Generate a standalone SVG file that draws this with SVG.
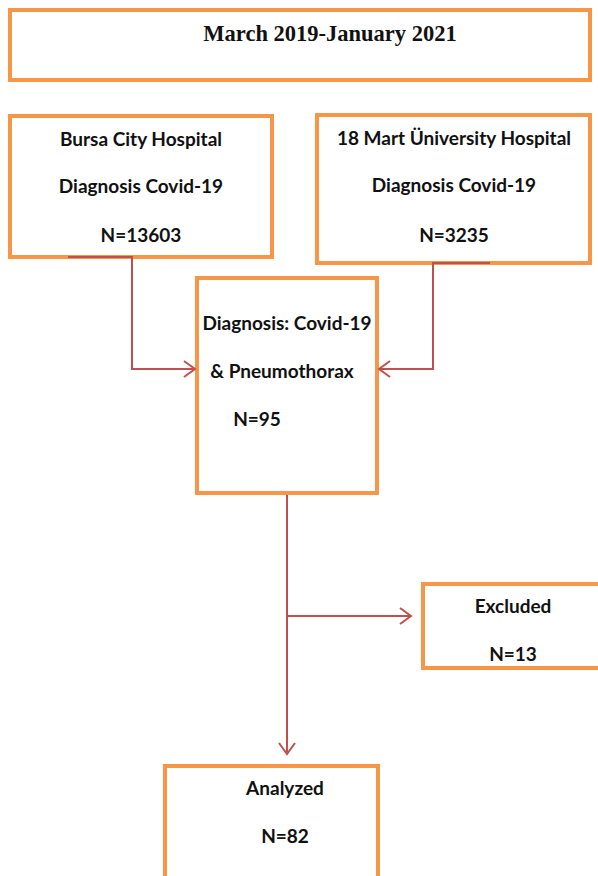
<svg xmlns="http://www.w3.org/2000/svg" width="598" height="876" viewBox="0 0 598 876">
<style>
.box{fill:#fff;stroke:#F79646;stroke-width:4}
.t{font-family:Lato,"Liberation Sans",sans-serif;font-weight:bold;font-size:19px;fill:#111;text-anchor:middle}
.title{font-family:"Liberation Serif",serif;font-weight:bold;font-size:22.5px;fill:#111;text-anchor:middle}
.c{fill:none;stroke:#C0504D;stroke-width:2}
</style>
<defs>
<marker id="arr" markerWidth="14" markerHeight="18" refX="12" refY="9" orient="auto" markerUnits="userSpaceOnUse">
<polyline points="1,1 12,9 1,17" fill="none" stroke="#C0504D" stroke-width="2"/>
</marker>
</defs>
<g id="title"><rect class="box" x="10" y="10" width="580" height="70"/><text class="title" x="330" y="41">March 2019-January 2021</text></g>
<g id="bursa"><rect class="box" x="10" y="116" width="262" height="141"/>
<text class="t" x="141" y="146">Bursa City Hospital</text>
<text class="t" x="141" y="193">Diagnosis Covid-19</text>
<text class="t" x="141" y="242">N=13603</text></g>
<g id="mart"><rect class="box" x="317" y="115" width="273" height="148"/>
<text class="t" x="454" y="145">18 Mart Üniversity Hospital</text>
<text class="t" x="454" y="192">Diagnosis Covid-19</text>
<text class="t" x="454" y="242">N=3235</text></g>
<g id="center"><rect class="box" x="197" y="278" width="180" height="215"/>
<text class="t" x="287" y="330">Diagnosis: Covid-19</text>
<text class="t" x="282" y="378">&amp; Pneumothorax</text>
<text class="t" x="257" y="426">N=95</text></g>
<g id="excluded"><rect class="box" x="423" y="584" width="180" height="84"/>
<text class="t" x="513" y="613">Excluded</text>
<text class="t" x="513" y="661">N=13</text></g>
<g id="analyzed"><rect class="box" x="165" y="766" width="213" height="120"/>
<text class="t" x="285" y="795">Analyzed</text>
<text class="t" x="285" y="843">N=82</text></g>
<g id="connectors">
<polyline class="c" points="68,257 132,257 132,369 195,369" marker-end="url(#arr)"/>
<polyline class="c" points="490,263 433,263 433,369 379,369" marker-end="url(#arr)"/>
<polyline class="c" points="287,495 287,754" marker-end="url(#arr)"/>
<polyline class="c" points="287,616 411,616" marker-end="url(#arr)"/>
</g>
</svg>
